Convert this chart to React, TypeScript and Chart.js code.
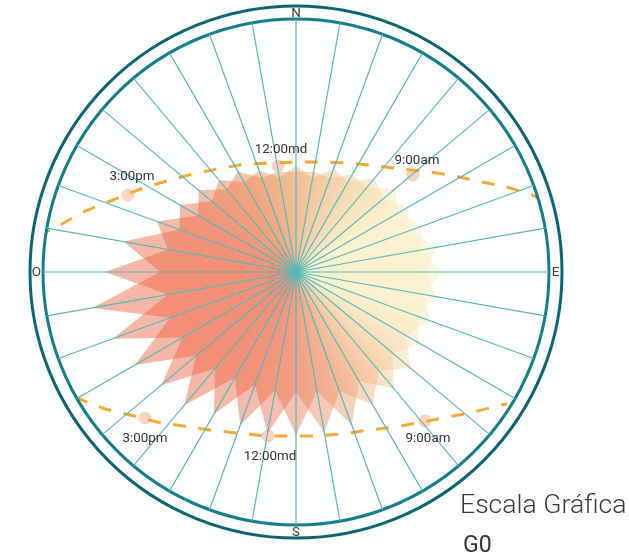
import React, { useEffect, useRef } from "react";
import { Chart, registerables } from "chart.js";

Chart.register(...registerables);

// 36 directions, clockwise from North, every 10 degrees
const compassLabels = [
  "N", "", "", "", "", "", "", "", "",
  "E", "", "", "", "", "", "", "", "",
  "S", "", "", "", "", "", "", "", "",
  "O", "", "", "", "", "", "", "", "",
];

const shadeA = [
  100, 102, 100, 113, 110, 130, 118, 135, 126,
  147, 130, 143, 127, 149, 129, 153, 127, 163,
  120, 164, 120, 164, 126, 176, 131, 195, 130,
  191, 130, 148, 113, 127, 108, 116, 100, 102,
];
const shadeB = [
  106, 96, 110, 104, 122, 114, 130, 120, 143,
  129, 142, 129, 143, 126, 152, 126, 163, 121,
  163, 120, 163, 122, 174, 130, 186, 134, 207,
  136, 175, 124, 134, 110, 120, 104, 108, 96,
];

const upperPathX = [-250, -234, -213, -188, -153, -126, -103, -79, -51, -23, 4, 27, 54, 81, 107, 134, 159, 186, 211, 236, 242];
const upperPathY = [40, 48, 60, 70, 84, 92, 98, 103, 108, 109, 110, 110, 109, 106, 103, 100, 96, 90, 85, 77, 74];
const lowerPathX = [-219, -191, -166, -139, -113, -86, -59, -31, -6, 21, 47, 73, 100, 126, 152, 178, 205, 211];
const lowerPathY = [-126, -137, -143, -150, -154, -158, -161, -164, -164, -164, -162, -158, -155, -150, -145, -140, -133, -132];

const sunLabels = ["3:00pm", "12:00md", "9:00am", "3:00pm", "12:00md", "9:00am"];
const sunX = [-168, -18, 117, -151, -28, 129];
const sunY = [77, 106, 97, -146, -164, -149];
const sunLabelDx = [4, 3, 4, 0, 2, 3];
const sunLabelDy = [-18, -16, -14, 21, 21, 18];

// colour wheel: angle in degrees clockwise from East, with colour
const wheelAngles = [0, 15, 30, 50, 70, 90, 110, 130, 180, 210, 240, 270, 310, 330, 360];
const wheelColors = [
  "rgba(250,236,185,0.45)",
  "rgba(250,236,185,0.45)",
  "rgba(248,226,176,0.45)",
  "rgba(244,191,134,0.45)",
  "rgba(236,150,100,0.45)",
  "rgba(236,118,80,0.45)",
  "rgba(238,100,66,0.45)",
  "rgba(236,95,59,0.45)",
  "rgba(236,95,59,0.45)",
  "rgba(236,102,62,0.45)",
  "rgba(234,126,69,0.45)",
  "rgba(234,162,105,0.45)",
  "rgba(245,212,155,0.45)",
  "rgba(250,236,185,0.45)",
  "rgba(250,236,185,0.45)",
];

const INNER_RING = 253;
const OUTER_RING = 266;
const LABEL_RING = 259.5;

function wheelFill(ctx: any) {
  const chart = ctx.chart;
  const scale = chart.scales.r;
  if (!scale || !scale.xCenter) return "rgba(236,95,59,0.45)";
  const g = chart.ctx.createConicGradient(0, scale.xCenter, scale.yCenter);
  wheelAngles.forEach((a, i) => g.addColorStop(a / 360, wheelColors[i]));
  return g;
}

const decorPlugin = {
  id: "decor",
  afterDraw(chart: any) {
    const { ctx } = chart;
    const scale = chart.scales.r;
    const dist = (v: number) => scale.getDistanceFromCenterForValue(v);
    ctx.save();
    ctx.beginPath();
    ctx.arc(scale.xCenter, scale.yCenter, dist(OUTER_RING), 0, Math.PI * 2);
    ctx.lineWidth = 3;
    ctx.strokeStyle = "#0c6572";
    ctx.stroke();

    ctx.fillStyle = "#3c3c3c";
    ctx.font = "13.5px Roboto";
    ctx.textAlign = "center";
    ctx.textBaseline = "middle";
    chart.data.labels.forEach((label: string, i: number) => {
      if (!label) return;
      const p = scale.getPointPosition(i, dist(LABEL_RING));
      ctx.fillText(label, p.x, p.y + 1);
    });

    ctx.fillStyle = "#333333";
    ctx.font = "13.4px Roboto";
    const meta = chart.getDatasetMeta(4);
    meta.data.forEach((pt: any, i: number) => {
      ctx.fillText(sunLabels[i], pt.x + sunLabelDx[i], pt.y + sunLabelDy[i]);
    });
    ctx.restore();
  },
};

export default function App() {
  const ref = useRef<HTMLCanvasElement | null>(null);

  useEffect(() => {
    const chart = new Chart(ref.current as HTMLCanvasElement, {
      type: "radar",
      data: {
        labels: compassLabels,
        datasets: [
          { label: "A", data: shadeA, fill: "start", backgroundColor: wheelFill, borderWidth: 0, pointRadius: 0, tension: 0 },
          { label: "B", data: shadeB, fill: "start", backgroundColor: wheelFill, borderWidth: 0, pointRadius: 0, tension: 0 },
          {
            type: "scatter", indexAxis: "x", label: "upper", showLine: true, fill: false, clip: false,
            data: upperPathX.map((x, i) => ({ x, y: upperPathY[i] })),
            borderColor: "#f8a935", borderWidth: 3, borderDash: [13, 12.5], borderDashOffset: 9, pointRadius: 0, tension: 0,
          },
          {
            type: "scatter", indexAxis: "x", label: "lower", showLine: true, fill: false, clip: false,
            data: lowerPathX.map((x, i) => ({ x, y: lowerPathY[i] })),
            borderColor: "#f8a935", borderWidth: 3, borderDash: [13, 12.5], borderDashOffset: 2, pointRadius: 0, tension: 0,
          },
          {
            type: "scatter", indexAxis: "x", label: "sun", showLine: false, clip: false,
            data: sunX.map((x, i) => ({ x, y: sunY[i] })),
            backgroundColor: "rgba(247,196,170,0.75)", borderWidth: 0, pointRadius: 6.5,
          },
        ],
      } as any,
      options: {
        animation: false,
        responsive: false,
        events: [],
        layout: { padding: { left: 43, right: 80, top: 19, bottom: 32 } },
        plugins: { legend: { display: false }, tooltip: { enabled: false } },
        scales: {
          r: {
            min: 0,
            max: INNER_RING,
            ticks: { display: false, stepSize: INNER_RING },
            pointLabels: { display: false },
            grid: { circular: true, color: "#147e8a", lineWidth: 3, z: 1 },
            angleLines: { display: true, color: "#55b8b8", lineWidth: 1.15 },
          },
          x: { type: "linear", display: false, min: -INNER_RING, max: INNER_RING },
          y: { type: "linear", display: false, min: -INNER_RING, max: INNER_RING },
        },
      } as any,
      plugins: [decorPlugin],
    });
    return () => chart.destroy();
  }, []);

  return (
    <div style={{ position: "absolute", left: 0, top: 0, width: 629, height: 557, background: "#fff", overflow: "hidden" }}>
      <canvas ref={ref} width={629} height={557} style={{ display: "block" }} />
      <div style={{ position: "absolute", left: 460, top: 489, fontFamily: "Roboto", fontWeight: 300, fontSize: 26.6, lineHeight: "30px", color: "#3a3a3a", whiteSpace: "nowrap" }}>
        Escala Gráfica
      </div>
      <div style={{ position: "absolute", left: 463, top: 532, fontFamily: "Roboto", fontWeight: 400, fontSize: 23, lineHeight: "26px", color: "#333", whiteSpace: "nowrap" }}>
        G0
      </div>
    </div>
  );
}
